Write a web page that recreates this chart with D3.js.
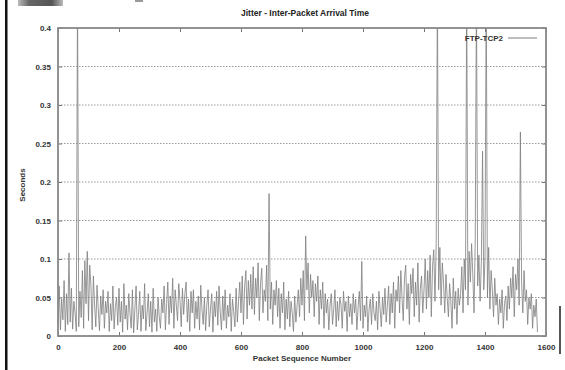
<!DOCTYPE html>
<html>
<head>
<meta charset="utf-8">
<script src="https://cdn.jsdelivr.net/npm/d3@7"></script>
<style>
  body { margin: 0; background: #fff; }
  text { font-family: "Liberation Sans", Arial, sans-serif; }
</style>
</head>
<body>
<div id="chart"></div>
<script>
// jitter per packet, one value every 4 packets (packet 0, 4, 8, ...)
const packetStep = 4;
const jitter = [
  0.012, 0.065, 0.008, 0.048, 0.021, 0.072, 0.006, 0.055, 0.015, 0.108,
  0.018, 0.062, 0.009, 0.045, 0.030, 0.006, 0.450, 0.012, 0.058, 0.024,
  0.085, 0.010, 0.098, 0.042, 0.110, 0.020, 0.092, 0.065, 0.008, 0.078,
  0.040, 0.012, 0.066, 0.035, 0.007, 0.052, 0.028, 0.060, 0.010, 0.045,
  0.030, 0.058, 0.006, 0.042, 0.020, 0.065, 0.009, 0.038, 0.050, 0.014,
  0.062, 0.018, 0.045, 0.005, 0.068, 0.022, 0.040, 0.008, 0.055, 0.030,
  0.010, 0.060, 0.004, 0.035, 0.065, 0.008, 0.028, 0.058, 0.006, 0.040,
  0.022, 0.068, 0.007, 0.030, 0.055, 0.012, 0.045, 0.005, 0.062, 0.018,
  0.035, 0.006, 0.050, 0.025, 0.010, 0.048, 0.030, 0.065, 0.008, 0.042,
  0.070, 0.015, 0.052, 0.030, 0.075, 0.010, 0.060, 0.040, 0.020, 0.068,
  0.045, 0.012, 0.062, 0.028, 0.055, 0.070, 0.018, 0.048, 0.006, 0.058,
  0.030, 0.060, 0.010, 0.045, 0.022, 0.052, 0.008, 0.066, 0.035, 0.015,
  0.050, 0.007, 0.040, 0.060, 0.012, 0.035, 0.055, 0.005, 0.045, 0.025,
  0.058, 0.014, 0.065, 0.030, 0.008, 0.052, 0.020, 0.060, 0.010, 0.040,
  0.025, 0.055, 0.006, 0.048, 0.032, 0.012, 0.062, 0.018, 0.045, 0.070,
  0.030, 0.078, 0.015, 0.065, 0.085, 0.022, 0.072, 0.040, 0.080, 0.035,
  0.090, 0.028, 0.075, 0.050, 0.095, 0.020, 0.068, 0.088, 0.030, 0.060,
  0.045, 0.092, 0.020, 0.185, 0.035, 0.070, 0.015, 0.060, 0.040, 0.072,
  0.025, 0.062, 0.010, 0.055, 0.030, 0.070, 0.008, 0.048, 0.022, 0.058,
  0.012, 0.045, 0.030, 0.006, 0.052, 0.018, 0.040, 0.060, 0.025, 0.075,
  0.040, 0.085, 0.020, 0.130, 0.060, 0.095, 0.030, 0.080, 0.050, 0.072,
  0.025, 0.068, 0.045, 0.078, 0.015, 0.060, 0.035, 0.070, 0.010, 0.055,
  0.030, 0.048, 0.008, 0.040, 0.055, 0.015, 0.035, 0.060, 0.012, 0.045,
  0.020, 0.050, 0.040, 0.010, 0.058, 0.032, 0.045, 0.006, 0.052, 0.025,
  0.042, 0.015, 0.055, 0.030, 0.048, 0.008, 0.038, 0.058, 0.020, 0.097,
  0.010, 0.040, 0.025, 0.052, 0.006, 0.035, 0.048, 0.015, 0.055, 0.030,
  0.020, 0.045, 0.008, 0.058, 0.035, 0.012, 0.050, 0.028, 0.062, 0.018,
  0.040, 0.065, 0.015, 0.055, 0.030, 0.070, 0.010, 0.060, 0.045, 0.078,
  0.030, 0.085, 0.050, 0.020, 0.075, 0.092, 0.035, 0.068, 0.015, 0.080,
  0.055, 0.088, 0.025, 0.070, 0.040, 0.095, 0.018, 0.062, 0.078, 0.030,
  0.060, 0.100, 0.035, 0.085, 0.050, 0.105, 0.025, 0.090, 0.112, 0.045,
  0.120, 0.450, 0.060, 0.115, 0.040, 0.095, 0.070, 0.030, 0.080, 0.050,
  0.025, 0.068, 0.045, 0.010, 0.075, 0.035, 0.058, 0.015, 0.062, 0.040,
  0.055, 0.090, 0.030, 0.100, 0.060, 0.450, 0.040, 0.110, 0.070, 0.120,
  0.080, 0.030, 0.125, 0.450, 0.065, 0.105, 0.045, 0.095, 0.240, 0.060,
  0.100, 0.450, 0.050, 0.115, 0.035, 0.085, 0.060, 0.025, 0.075, 0.040,
  0.055, 0.015, 0.048, 0.030, 0.060, 0.010, 0.042, 0.052, 0.020, 0.065,
  0.035, 0.075, 0.050, 0.090, 0.025, 0.080, 0.060, 0.100, 0.040, 0.265,
  0.070, 0.030, 0.085, 0.045, 0.060, 0.015, 0.050, 0.035, 0.055, 0.010,
  0.040, 0.025, 0.048, 0.005
];

const xTicks = [0, 200, 400, 600, 800, 1000, 1200, 1400, 1600];
const xTickLabels = ['0', '200', '400', '600', '800', '1000', '1200', '1400', '1600'];
const yTicks = [0, 0.05, 0.1, 0.15, 0.2, 0.25, 0.3, 0.35, 0.4];
const yTickLabels = ['0', '0.05', '0.1', '0.15', '0.2', '0.25', '0.3', '0.35', '0.4'];
const seriesName = 'FTP-TCP2';

const W = 565, H = 370;
const margin = { top: 28, right: 19, bottom: 34, left: 58 };
const width = W - margin.left - margin.right;
const height = H - margin.top - margin.bottom;

const svg = d3.select('#chart').append('svg')
  .attr('width', W)
  .attr('height', H);

// scan leftovers around the figure
svg.append('rect').attr('x', 5).attr('y', 0).attr('width', 2.5).attr('height', H).attr('fill', '#111');
const grad = svg.append('defs').append('linearGradient').attr('id', 'blk');
grad.append('stop').attr('offset', '0%').attr('stop-color', '#bbb');
grad.append('stop').attr('offset', '25%').attr('stop-color', '#666');
grad.append('stop').attr('offset', '75%').attr('stop-color', '#555');
grad.append('stop').attr('offset', '100%').attr('stop-color', '#bbb');
svg.append('rect').attr('x', 18).attr('y', 0).attr('width', 45).attr('height', 6).attr('fill', 'url(#blk)');
svg.append('rect').attr('x', 135).attr('y', 0).attr('width', 8).attr('height', 2).attr('fill', '#999');
svg.append('rect').attr('x', 559).attr('y', 306).attr('width', 2).attr('height', 48).attr('fill', '#555');

const g = svg.append('g')
  .attr('transform', 'translate(' + margin.left + ',' + margin.top + ')');

const x = d3.scaleLinear().domain([0, 1600]).range([0, width]);
const y = d3.scaleLinear().domain([0, 0.4]).range([height, 0]);

g.append('defs').append('clipPath')
  .attr('id', 'clip')
  .append('rect')
  .attr('width', width)
  .attr('height', height);

// dotted horizontal grid
g.append('g')
  .selectAll('line')
  .data(yTicks.filter(d => d > 0 && d < 0.4))
  .join('line')
  .attr('x1', 0).attr('x2', width)
  .attr('y1', d => y(d)).attr('y2', d => y(d))
  .attr('stroke', '#999')
  .attr('stroke-width', 1)
  .attr('stroke-dasharray', '1.5,1.5');

// data line
const line = d3.line()
  .x((d, i) => x(i * packetStep))
  .y(d => y(d));

g.append('g')
  .attr('clip-path', 'url(#clip)')
  .append('path')
  .datum(jitter)
  .attr('fill', 'none')
  .attr('stroke', '#7d7d7d')
  .attr('stroke-width', 0.8)
  .attr('d', line);

// axes: ticks inside, mirrored
const tickStyle = sel => {
  sel.select('.domain').remove();
  sel.selectAll('.tick line').attr('stroke', '#777').attr('stroke-width', 1);
  sel.selectAll('.tick text')
    .attr('fill', '#333')
    .style('font-size', '8px')
    .style('font-weight', 'bold');
};

g.append('g')
  .attr('transform', 'translate(0,' + height + ')')
  .call(d3.axisBottom(x).tickValues(xTicks).tickSizeInner(-4).tickPadding(8)
    .tickFormat((d, i) => xTickLabels[i]))
  .call(tickStyle);
g.append('g')
  .call(d3.axisTop(x).tickValues(xTicks).tickSizeInner(-4).tickFormat(''))
  .call(tickStyle);
g.append('g')
  .call(d3.axisLeft(y).tickValues(yTicks).tickSizeInner(-4).tickPadding(7)
    .tickFormat((d, i) => yTickLabels[i]))
  .call(tickStyle);
g.append('g')
  .attr('transform', 'translate(' + width + ',0)')
  .call(d3.axisRight(y).tickValues(yTicks).tickSizeInner(-4).tickFormat(''))
  .call(tickStyle);

// border
g.append('rect')
  .attr('width', width)
  .attr('height', height)
  .attr('fill', 'none')
  .attr('stroke', '#888')
  .attr('stroke-width', 1.8);

// title and labels
svg.append('text')
  .attr('x', 305).attr('y', 16)
  .attr('text-anchor', 'middle')
  .style('font-size', '8.5px').style('font-weight', 'bold').attr('fill', '#222')
  .text('Jitter - Inter-Packet Arrival Time');

svg.append('text')
  .attr('x', 302).attr('y', 361)
  .attr('text-anchor', 'middle')
  .style('font-size', '8px').style('font-weight', 'bold').attr('fill', '#333')
  .text('Packet Sequence Number');

svg.append('text')
  .attr('transform', 'translate(25,185) rotate(-90)')
  .attr('text-anchor', 'middle')
  .style('font-size', '8px').style('font-weight', 'bold').attr('fill', '#333')
  .text('Seconds');

// legend
const legend = svg.append('g');
legend.append('text')
  .attr('x', 503).attr('y', 41)
  .attr('text-anchor', 'end')
  .style('font-size', '8px').style('font-weight', 'bold').attr('fill', '#333')
  .text(seriesName);
legend.append('line')
  .attr('x1', 508).attr('x2', 537)
  .attr('y1', 38).attr('y2', 38)
  .attr('stroke', '#7d7d7d').attr('stroke-width', 1);
</script>
</body>
</html>
